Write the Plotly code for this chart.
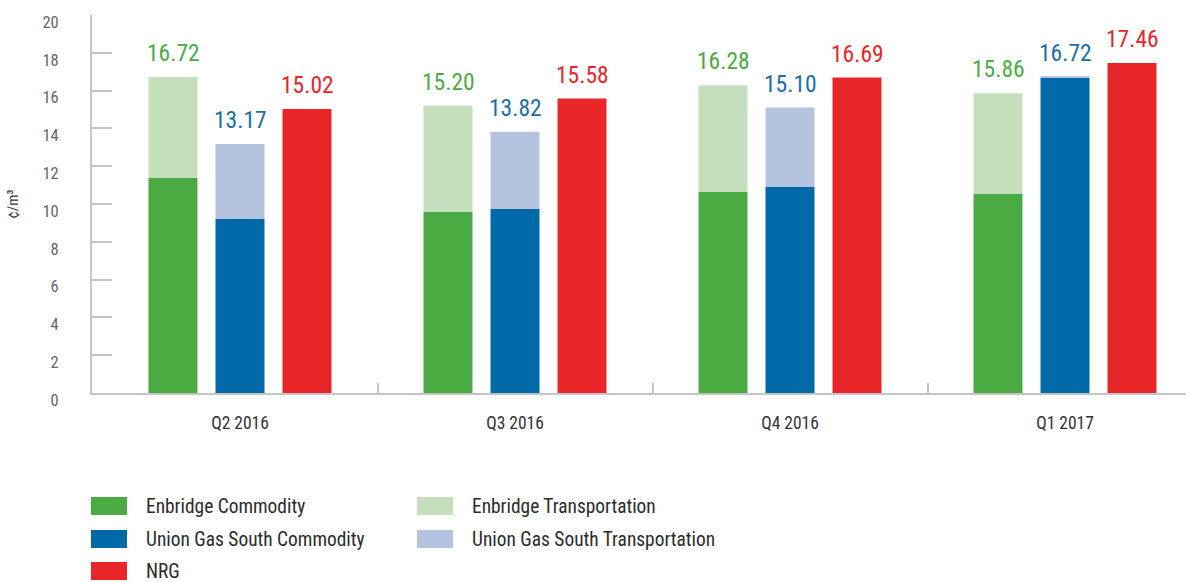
import plotly.graph_objects as go

# ---------------- data ----------------
categories = ["Q2 2016", "Q3 2016", "Q4 2016", "Q1 2017"]
enbridge_commodity = [11.37, 9.58, 10.63, 10.53]
enbridge_transport = [5.35, 5.62, 5.65, 5.33]
enbridge_total = [16.72, 15.20, 16.28, 15.86]
union_commodity = [9.21, 9.74, 10.90, 16.68]
union_transport = [3.96, 4.08, 4.20, 0.04]
union_total = [13.17, 13.82, 15.10, 16.72]
nrg = [15.02, 15.58, 16.69, 17.46]
y_ticks = [0, 2, 4, 6, 8, 10, 12, 14, 16, 18, 20]

# ---------------- styles ----------------
GREEN, GREEN_L = "#4bab43", "#c5dfbd"
BLUE, BLUE_L = "#0069a7", "#b5c4de"
RED = "#e8262a"
FONT = "Liberation Sans Narrow, Roboto Condensed, DejaVu Sans Condensed, Arial Narrow, sans-serif"
AXIS_GRAY = "#c4c4c4"

W, H = 1186, 582
ML, MR, MT, MB = 92, 0, 15, 189
PW, PH = W - ML - MR, H - MT - MB
UNIT = 275.0
x0 = -(240 - ML) / UNIT
x1 = x0 + PW / UNIT

def px(x):
    return (x - ML) / PW

def py(y):
    return (H - MB - y) / PH

xs = list(range(len(categories)))

fig = go.Figure()
fig.add_bar(x=xs, y=enbridge_commodity, name="Enbridge Commodity", offsetgroup="e",
            marker=dict(color=GREEN, line=dict(width=0)), showlegend=False)
fig.add_bar(x=xs, y=enbridge_transport, base=enbridge_commodity, name="Enbridge Transportation",
            offsetgroup="e", marker=dict(color=GREEN_L, line=dict(width=0)), showlegend=False)
fig.add_bar(x=xs, y=union_commodity, name="Union Gas South Commodity", offsetgroup="u",
            marker=dict(color=BLUE, line=dict(width=0)), showlegend=False)
fig.add_bar(x=xs, y=union_transport, base=union_commodity, name="Union Gas South Transportation",
            offsetgroup="u", marker=dict(color=BLUE_L, line=dict(width=0)), showlegend=False)
fig.add_bar(x=xs, y=nrg, name="NRG", offsetgroup="n",
            marker=dict(color=RED, line=dict(width=0)), showlegend=False)

annotations = []
for totals, color, shift in [(enbridge_total, GREEN, -67), (union_total, "#1b6ea8", 0), (nrg, RED, 67)]:
    for i, v in enumerate(totals):
        annotations.append(dict(x=xs[i], y=v, xref="x", yref="y", text=f"{v:.2f}",
                                showarrow=False, xanchor="center", yanchor="bottom",
                                xshift=shift, yshift=8,
                                font=dict(family=FONT, size=23.5, color=color)))

# manual legend
legend_items = [
    ("Enbridge Commodity", GREEN, 91, 506),
    ("Union Gas South Commodity", BLUE, 91, 539),
    ("NRG", RED, 91, 571),
    ("Enbridge Transportation", GREEN_L, 417, 506),
    ("Union Gas South Transportation", BLUE_L, 417, 539),
]
shapes = []
for label, color, lx, ly in legend_items:
    shapes.append(dict(type="rect", xref="paper", yref="paper",
                       x0=px(lx), x1=px(lx + 36), y0=py(ly + 9), y1=py(ly - 9),
                       fillcolor=color, line=dict(width=0)))
    annotations.append(dict(x=px(lx + 53), y=py(ly), xref="paper", yref="paper",
                            text=label, showarrow=False, xanchor="left", yanchor="middle",
                            font=dict(family=FONT, size=19.4, color="#2b2b2b")))

fig.update_layout(
    width=W, height=H,
    margin=dict(l=ML, r=MR, t=MT, b=MB, autoexpand=False),
    paper_bgcolor="white", plot_bgcolor="white",
    barmode="group", bargap=0.269, bargroupgap=0.269,
    font=dict(family=FONT, color="#555555"),
    annotations=annotations, shapes=shapes,
    showlegend=False,
)
fig.update_xaxes(
    range=[x0, x1], tickmode="array", tickvals=xs, ticktext=categories,
    ticks="", showgrid=False, zeroline=False,
    showline=True, linecolor=AXIS_GRAY, linewidth=2,
    tickfont=dict(family=FONT, size=17.5, color="#333333"),
    ticklabelstandoff=13,
    minor=dict(tickmode="array", tickvals=[i + 0.5 for i in xs[:-1]], ticks="inside",
               ticklen=10, tickcolor=AXIS_GRAY, tickwidth=2, showgrid=False),
)
fig.update_yaxes(
    range=[0, 20], tickmode="array", tickvals=y_ticks,
    ticks="inside", ticklen=20, tickcolor=AXIS_GRAY, tickwidth=1.5,
    showgrid=False, zeroline=False,
    showline=True, linecolor=AXIS_GRAY, linewidth=2,
    tickfont=dict(family=FONT, size=16.5, color="#666666"),
    ticklabelstandoff=28, ticklabelshift=7, ticklabeloverflow="allow",
    title=dict(text="¢/m³", font=dict(family=FONT, size=15, color="#333333"), standoff=20),
)

fig.write_html("out.html")
